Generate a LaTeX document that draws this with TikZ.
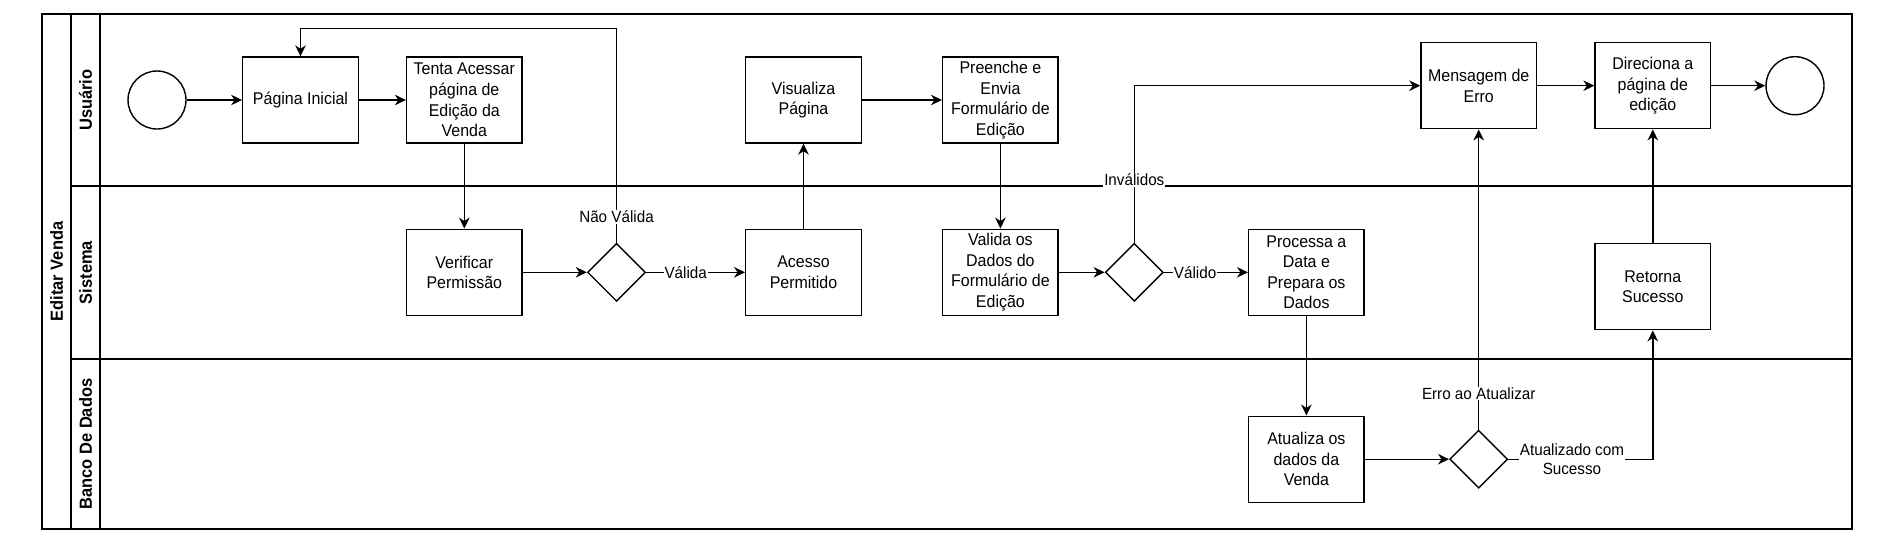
\documentclass[tikz,border=0pt]{standalone}
\usepackage{fontspec}
\setmainfont[FakeStretch=0.94]{Liberation Sans}
\usepackage{tikz}
\usetikzlibrary{arrows.meta, shapes.geometric}

\begin{document}
\begin{tikzpicture}[x=1pt, y=-1pt, line width=1.4pt,
			>={Stealth[length=11pt, width=10.5pt, inset=3.5pt]},   % Pfeilspitzen
			task/.style={draw, minimum width=115.5pt, minimum height=86pt, align=center, inner sep=2pt, font=\fontsize{17}{20.6}\selectfont},
			gate/.style={draw, diamond, minimum size=58pt, inner sep=0pt},
			event/.style={draw, circle, minimum size=58pt, inner sep=0pt},
			lbl/.style={fill=white, inner sep=1pt, align=center, font=\fontsize{16.2}{19.5}\selectfont},
			lane/.style={rotate=90, font=\bfseries\fontsize{17.5}{20}\selectfont},
			flow/.style={->}]
			\useasboundingbox (0,0) rectangle (1894,544);
			% Bahnen zeichnen
			\draw[line width=2pt] (42,14) rectangle (1852,529);
			\draw (71,14) -- (71,529);
			\draw (100,14) -- (100,529);
			\draw (71,186) -- (1852,186);
			\draw (71,359) -- (1852,359);
			% Bahnen beschriften
			\node[lane] (pool) at (56.5,271.5) {Editar Venda};
			\node[lane] (usuario) at (85.5,100) {Usuário};
			\node[lane] (sistema) at (85.5,272.5) {Sistema};
			\node[lane] (bd) at (85.5,444) {Banco De Dados};
			% Aktivitaeten
			\node[event] (inicio) at (157,100) {};
			\node[task] (pagina) at (300.5,100) {Página Inicial};
			\node[task] (tenta) at (464.3,100) {Tenta Acessar\\página de\\Edição da\\Venda};
			\node[task] (verificar) at (464.3,272.3) {Verificar\\Permissão};
			\node[gate] (perm) at (616.5,272.3) {};
			\node[task] (acesso) at (803.5,272.3) {Acesso\\Permitido};
			\node[task] (visualiza) at (803.5,100) {Visualiza\\Página};
			\node[task] (preenche) at (1000.4,100) {Preenche e\\Envia\\Formulário de\\Edição};
			\node[task] (valida) at (1000.4,272.3) {Valida os\\Dados do\\Formulário de\\Edição};
			\node[gate] (dados) at (1134.3,272.3) {};
			\node[task] (processa) at (1306.4,272.3) {Processa a\\Data e\\Prepara os\\Dados};
			\node[task] (atualiza) at (1306.4,459.2) {Atualiza os\\dados da\\Venda};
			\node[gate] (atual) at (1478.7,459.2) {};
			\node[task] (erro) at (1478.7,85.7) {Mensagem de\\Erro};
			\node[task] (direciona) at (1652.8,85.7) {Direciona a\\página de\\edição};
			\node[event] (fim) at (1795,85.7) {};
			\node[task] (retorna) at (1652.8,286.7) {Retorna\\Sucesso};
			\coordinate (volta) at (616.5,28.3);
			% Pfeile
			\draw[flow] (inicio) -- (pagina);
			\draw[flow] (pagina) -- (tenta);
			\draw[flow] (tenta) -- (verificar);
			\draw[flow] (verificar) -- (perm);
			\draw[flow] (perm) -- node[lbl, pos=0.4] {Válida} (acesso);
			\draw[flow] (perm.north) -- node[lbl, pos=0.12] {Não Válida} (volta) -| (pagina.north);
			\draw[flow] (acesso) -- (visualiza);
			\draw[flow] (visualiza) -- (preenche);
			\draw[flow] (preenche) -- (valida);
			\draw[flow] (valida) -- (dados);
			\draw[flow] (dados) -- node[lbl, pos=0.37] {Válido} (processa);
			\draw[flow] (dados.north) |- node[lbl, pos=0.2] {Inválidos} (erro.west);
			\draw[flow] (processa) -- (atualiza);
			\draw[flow] (atualiza) -- (atual);
			\draw[flow] (atual) -- node[lbl, pos=0.12] {Erro ao Atualizar} (erro);
			\draw[flow] (atual.east) -| node[lbl, pos=0.22] {Atualizado com\\Sucesso} (retorna.south);
			\draw[flow] (retorna) -- (direciona);
			\draw[flow] (erro) -- (direciona);
			\draw[flow] (direciona) -- (fim);
\end{tikzpicture}
\end{document}
